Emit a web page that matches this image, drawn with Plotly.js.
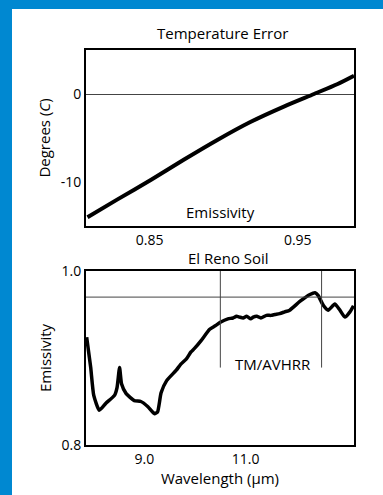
<!DOCTYPE html>
<html><head><meta charset="utf-8">
<script src="https://cdn.plot.ly/plotly-3.0.1.min.js"></script>
<style>
html,body{margin:0;padding:0;background:#0088D1;width:383px;height:495px;overflow:hidden;}
#plot{position:absolute;left:12px;top:9px;width:371px;height:486px;background:#fff;}
</style></head>
<body><div id="plot"></div>
<script>
// Top panel: temperature error vs emissivity
const emissivityTop = [0.808, 0.828, 0.851, 0.873, 0.896, 0.918, 0.941, 0.961, 0.977, 0.988];
const tempError = [-14.0, -12.0, -9.74, -7.47, -5.19, -3.18, -1.40, 0.0, 1.14, 2.08];

// Bottom panel: El Reno soil emissivity spectrum
const wavelength = [7.86, 7.94, 8.0, 8.11, 8.24, 8.41, 8.46, 8.51, 8.55, 8.64, 8.80, 8.93, 9.07, 9.20, 9.26, 9.33, 9.44, 9.63, 9.72, 9.83, 9.92, 9.99, 10.12, 10.29, 10.4, 10.5, 10.65, 10.75, 10.82, 10.88, 10.95, 11.02, 11.1, 11.15, 11.22, 11.3, 11.41, 11.5, 11.58, 11.67, 11.77, 11.87, 12.07, 12.27, 12.37, 12.43, 12.53, 12.63, 12.76, 12.85, 12.96, 13.06, 13.13];
const soilEmissivity = [0.924, 0.889, 0.857, 0.840, 0.848, 0.857, 0.866, 0.889, 0.870, 0.859, 0.851, 0.850, 0.844, 0.836, 0.838, 0.860, 0.874, 0.886, 0.893, 0.899, 0.907, 0.911, 0.920, 0.933, 0.937, 0.941, 0.945, 0.946, 0.948, 0.947, 0.946, 0.948, 0.945, 0.947, 0.948, 0.946, 0.949, 0.949, 0.950, 0.951, 0.953, 0.955, 0.965, 0.973, 0.975, 0.972, 0.961, 0.955, 0.962, 0.956, 0.947, 0.953, 0.960];

const topTickVals = [0.85, 0.95];
const topTickText = ['0.85', '0.95'];
const topYTickVals = [-10, 0];
const topYTickText = ['-10', '0'];
const botTickVals = [9, 11];
const botTickText = ['9.0', '11.0'];
const botYTickVals = [0.8, 1.0];
const botYTickText = ['0.8', '1.0'];
const bandEdges = [10.5, 12.5];
const refLevel = 0.97;
const bandTop = 0.889;

const FONT = "'Comic Sans MS', 'Open Sans', sans-serif";

const traces = [
  {x: emissivityTop, y: tempError, xaxis: 'x', yaxis: 'y', mode: 'lines',
   line: {color: '#000', width: 4, shape: 'spline', smoothing: 0.6}, hoverinfo: 'skip'},
  {x: wavelength, y: soilEmissivity, xaxis: 'x2', yaxis: 'y2', mode: 'lines',
   line: {color: '#000', width: 3.5, shape: 'spline', smoothing: 0.5}, hoverinfo: 'skip'}
];

const axBase = {showgrid: false, showline: true, mirror: true, linecolor: '#000', linewidth: 2,
  ticks: '', zeroline: false, tickfont: {family: FONT, size: 14, color: '#000'}, fixedrange: true};

const shapes = [
  {type: 'line', xref: 'x2 domain', yref: 'y2', x0: 0, x1: 1, y0: refLevel, y1: refLevel,
   line: {color: '#444', width: 1}},
  ...bandEdges.map(b => ({type: 'line', xref: 'x2', yref: 'y2', x0: b, x1: b, y0: bandTop, y1: 1.0,
   line: {color: '#444', width: 1}}))
];

const layout = {
  width: 371, height: 486,
  margin: {l: 74, r: 29, t: 41, b: 50},
  paper_bgcolor: '#fff', plot_bgcolor: '#fff',
  showlegend: false,
  font: {family: FONT, size: 14, color: '#000'},
  xaxis: Object.assign({}, axBase, {domain: [0, 1], anchor: 'y', range: [0.807, 0.988],
    tickvals: topTickVals, ticktext: topTickText}),
  yaxis: Object.assign({}, axBase, {domain: [0.5544, 1], anchor: 'x', range: [-15, 5],
    tickvals: topYTickVals, ticktext: topYTickText,
    zeroline: true, zerolinecolor: '#444', zerolinewidth: 1,
    title: {text: 'Degrees (<i>C</i>)', font: {family: FONT, size: 15}, standoff: 6}}),
  xaxis2: Object.assign({}, axBase, {domain: [0, 1], anchor: 'y2', range: [7.847, 13.14],
    tickvals: botTickVals, ticktext: botTickText,
    title: {text: 'Wavelength (\u03BCm)', font: {family: FONT, size: 15}, standoff: 0}}),
  yaxis2: Object.assign({}, axBase, {domain: [0, 0.4405], anchor: 'x2', range: [0.8, 1.0],
    tickvals: botYTickVals, ticktext: botYTickText,
    title: {text: 'Emissivity', font: {family: FONT, size: 15}, standoff: 6}}),
  shapes: shapes,
  annotations: [
    {text: 'Temperature Error', xref: 'paper', yref: 'paper', x: 0.508, y: 1.043,
     yanchor: 'middle', showarrow: false, font: {family: FONT, size: 15}},
    {text: 'El Reno Soil', xref: 'paper', yref: 'paper', x: 0.53, y: 0.473,
     yanchor: 'middle', showarrow: false, font: {family: FONT, size: 15}},
    {text: 'Emissivity', xref: 'x domain', yref: 'y', x: 0.5, y: -13.4,
     yanchor: 'middle', showarrow: false, font: {family: FONT, size: 15}},
    {text: 'TM/AVHRR', xref: 'x2', yref: 'y2', x: 11.54, y: 0.8936,
     yanchor: 'middle', showarrow: false, font: {family: FONT, size: 15}}
  ]
};

Plotly.newPlot('plot', traces, layout, {staticPlot: true, displayModeBar: false});
</script></body></html>
